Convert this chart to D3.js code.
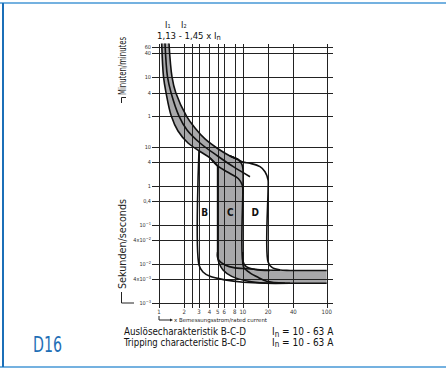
<!DOCTYPE html>
<html><head><meta charset="utf-8">
<script src="https://cdn.jsdelivr.net/npm/d3@7"></script>
<style>body{margin:0;background:#fff}svg{display:block}</style>
</head><body>
<svg id="c" width="446" height="372"></svg>
<script>
// ---------- data ----------
const currentTicks = [1, 2, 3, 4, 5, 6, 8, 10, 20, 40, 100];
const extraCurrentGrid = [2.5];
const timeTicks = [3600, 2400, 600, 240, 60, 10, 4, 1, 0.4, 0.1, 0.04, 0.01, 0.004, 0.001];
const timeLabels = ["60", "40", "10", "4", "1", "10", "4", "1", "0,4", "10^-1", "4x10^-2", "10^-2", "4x10^-3", "10^-3"];

// thermal band (multiple of In, seconds)
const thermalUpper = [[1.316,4300],[1.429,600],[1.582,240],[2.128,60],[2.688,29.7],[3.537,15.6],[5,8.9],[7.026,5.72],[8.755,4.66]];
const thermalMiddle = [[1.179,4300],[1.263,600],[1.39,240],[1.732,60],[2.158,26.4],[3.083,12.3],[5,5.72],[7.69,3.05],[12.17,1.69]];
const thermalLowerTop = [[1.077,4300],[1.132,600],[1.212,240],[1.402,60],[1.685,24.9],[2.218,12.3],[3.083,7.46],[4.057,5.09],[5,3.18]];
const thermalLowerTail = [[4.057,5.09],[5,3.18],[7.026,2.04],[8.87,1.5],[9.8,1.05],[10,0.8],[10,0.6]];
// magnetic curves
const curveD = [[7.026,5.72],[8.755,4.66],[10,4.02],[12.17,3.72],[16.02,3.05],[18.37,2.27],[20,1.39],[20,0.8],[20,0.0112],[22.27,0.0081],[27.73,0.007],[36.5,0.0068],[100,0.0068]];
const curveCRight = [[7.026,5.72],[8.755,4.66],[9.64,3.68],[10,2.82],[10,0.0119],[10.9,0.0086],[13.96,0.0072],[21.08,0.0068]];
const curveCLeftUpper = [[5,0.02],[5,0.015],[5.195,0.0122],[6.126,0.0094],[8.06,0.0079],[10.12,0.0076],[16.02,0.0071],[27.73,0.0069]];
const curveCLeftLower = [[5,0.02],[5,0.015],[5.195,0.0105],[5.8,0.007],[7.36,0.0048],[11.61,0.0036],[18.37,0.00324],[36.5,0.0032],[100,0.0032]];
const curveB = [[3,7.9],[3,0.0094],[3.347,0.0062],[4.057,0.0048],[6.126,0.0039],[10.12,0.0034],[18.37,0.0032],[36.5,0.0032]];
const curveDLower = [[10,0.02],[10,0.0099],[10.32,0.0079],[12.17,0.0059],[15.29,0.0045],[19.25,0.0036],[31.8,0.0032]];
const curveCLeftLine = [[5,3.18],[5,0.02]];
const regionLabels = [["B",3.5,0.2],["C",7.1,0.2],["D",14.1,0.2]];

// ---------- setup ----------
const svg = d3.select("#c");
const FONT = "'Liberation Sans Narrow','DejaVu Sans Condensed',Roboto,sans-serif";
const x = d3.scaleLog().domain([1, 100]).range([159, 326.7]);
const y = d3.scaleLog().domain([0.001, 3600]).range([303, 46.5]);
const [x0, x1] = x.range();
const [yb, yt] = y.range();

const lineC = d3.line().x(d => x(d[0])).y(d => y(d[1])).curve(d3.curveCatmullRom.alpha(0.5));
const lineL = d3.line().x(d => x(d[0])).y(d => y(d[1]));
const cont = s => s.replace(/^M/, "L");

// frame
svg.append("rect").attr("x", 0).attr("y", 2).attr("width", 446).attr("height", 2).attr("fill", "#74b1e0");
svg.append("rect").attr("x", 0).attr("y", 366).attr("width", 446).attr("height", 2).attr("fill", "#74b1e0");
svg.append("rect").attr("x", 2).attr("y", 3).attr("width", 2).attr("height", 364).attr("fill", "#1b6fb8");

// grey region
const greyPath =
  lineC(thermalLowerTop) +
  cont(lineL([[5,3.18],[5,0.02]])) +
  cont(lineC(curveCLeftLower)) +
  cont(lineL([[100,0.0032],[100,0.0068],[21.08,0.0068]])) +
  cont(lineC([[21.08,0.0068],[13.96,0.0072],[10.9,0.0086],[10,0.0119],[10,0.02]])) +
  cont(lineL([[10,0.02],[10,2.82]])) +
  cont(lineC([[10,2.82],[9.64,3.68]].concat(thermalUpper.slice().reverse()))) + "Z";
svg.append("path").attr("d", greyPath).attr("fill", "#a8a8aa");

// grid
const g = svg.append("g").attr("stroke", "#222").attr("stroke-width", 1).attr("shape-rendering", "crispEdges");
g.selectAll(".v").data(currentTicks.concat(extraCurrentGrid)).join("line")
  .attr("x1", d => Math.round(x(d)) + 0.5).attr("x2", d => Math.round(x(d)) + 0.5)
  .attr("y1", yt - 3).attr("y2", yb + 5);
g.selectAll(".h").data(timeTicks).join("line")
  .attr("y1", d => Math.round(y(d)) + 0.5).attr("y2", d => Math.round(y(d)) + 0.5)
  .attr("x1", x0 - 7).attr("x2", x1 + 6.5);

// curves
const curves = [thermalUpper, thermalMiddle, thermalLowerTop, thermalLowerTail, curveD, curveCRight,
  curveCLeftUpper, curveCLeftLower, curveB, curveDLower];
svg.append("g").selectAll("path").data(curves).join("path")
  .attr("d", d => lineC(d)).attr("fill", "none").attr("stroke", "#111").attr("stroke-width", 1.6);
svg.append("path").attr("d", lineL(curveCLeftLine)).attr("stroke", "#111").attr("stroke-width", 1.6);

// y labels
const yl = svg.append("g").attr("font-family", FONT).attr("font-size", 5.5).attr("fill", "#333").attr("text-anchor", "end");
timeTicks.forEach((t, i) => {
  const lab = timeLabels[i];
  const tx = yl.append("text").attr("x", x0 - 8).attr("y", y(t) + 2);
  if (lab.includes("^")) {
    const [b, e] = lab.split("^");
    tx.append("tspan").text(b);
    tx.append("tspan").attr("dy", -2).attr("font-size", 4).text(e.replace("-", "−"));
  } else tx.text(lab);
});

// x labels
svg.append("g").attr("font-family", FONT).attr("font-size", 6).attr("fill", "#333").attr("text-anchor", "middle")
  .selectAll("text").data(currentTicks).join("text")
  .attr("x", d => x(d)).attr("y", yb + 11).text(d => d);

// axis titles
svg.append("text").attr("transform", `translate(125.5,66) rotate(-90)`).attr("text-anchor", "middle")
  .attr("font-family", FONT).attr("font-size", 10).attr("fill", "#222").attr("textLength", 58).attr("lengthAdjust", "spacingAndGlyphs")
  .text("Minuten/minutes");
svg.append("text").attr("transform", `translate(125.5,244) rotate(-90)`).attr("text-anchor", "middle")
  .attr("font-family", FONT).attr("font-size", 10).attr("fill", "#222").attr("textLength", 90).attr("lengthAdjust", "spacingAndGlyphs")
  .text("Sekunden/seconds");
const br = svg.append("g").attr("fill", "none").attr("stroke", "#222").attr("stroke-width", 1);
br.append("path").attr("d", "M121.5,103 V97.5 H126");
br.append("path").attr("d", `M121.5,292 V${y(0.001)} H134`);
br.append("path").attr("d", `M${x0},316 V320 H171`);
svg.append("path").attr("d", "M173,320 l-3,-1.5 v3 z").attr("fill", "#222");
svg.append("text").attr("x", 174).attr("y", 322).attr("font-family", FONT).attr("font-size", 5.5).attr("fill", "#222")
  .attr("textLength", 93).attr("lengthAdjust", "spacingAndGlyphs").text("x Bemessungsstrom/rated current");

// top labels
const topG = svg.append("g").attr("font-family", FONT).attr("fill", "#111");
[["1", 165], ["2", 181]].forEach(([s, px]) => {
  const t = topG.append("text").attr("x", px).attr("y", 27.5).attr("font-size", 9);
  t.append("tspan").text("I");
  t.append("tspan").attr("font-size", 5.5).attr("dy", 0.5).text(s);
});
const tt = topG.append("text").attr("x", 157).attr("y", 38.5).attr("font-size", 9.5);
tt.append("tspan").text("1,13 - 1,45 x I");
tt.append("tspan").attr("font-size", 7.5).attr("dy", 1.5).text("n");

// B C D labels
svg.append("g").attr("font-family", FONT).attr("font-size", 10).attr("font-weight", "bold").attr("fill", "#111")
  .attr("text-anchor", "middle")
  .selectAll("text").data(regionLabels).join("text")
  .attr("x", d => x(d[1])).attr("y", d => y(d[2]) + 3.5).text(d => d[0]);

// bottom text
const bt = svg.append("g").attr("font-family", FONT).attr("font-size", 10).attr("fill", "#111");
bt.append("text").attr("x", 124).attr("y", 335).attr("textLength", 122).attr("lengthAdjust", "spacingAndGlyphs").text("Auslösecharakteristik B-C-D");
bt.append("text").attr("x", 124).attr("y", 345.5).attr("textLength", 122).attr("lengthAdjust", "spacingAndGlyphs").text("Tripping characteristic B-C-D");
[335, 345.5].forEach(yy => {
  const t = bt.append("text").attr("x", 272).attr("y", yy);
  t.append("tspan").text("I");
  t.append("tspan").attr("font-size", 8).attr("dy", 1.5).text("n");
  t.append("tspan").attr("dy", -1.5).text(" = 10 - 63 A");
});

// D16
svg.append("text").attr("x", 33).attr("y", 352).attr("font-family", FONT).attr("font-size", 21)
  .attr("fill", "#1f6fb6").attr("textLength", 29).attr("lengthAdjust", "spacingAndGlyphs").text("D16");
</script>
</body></html>
